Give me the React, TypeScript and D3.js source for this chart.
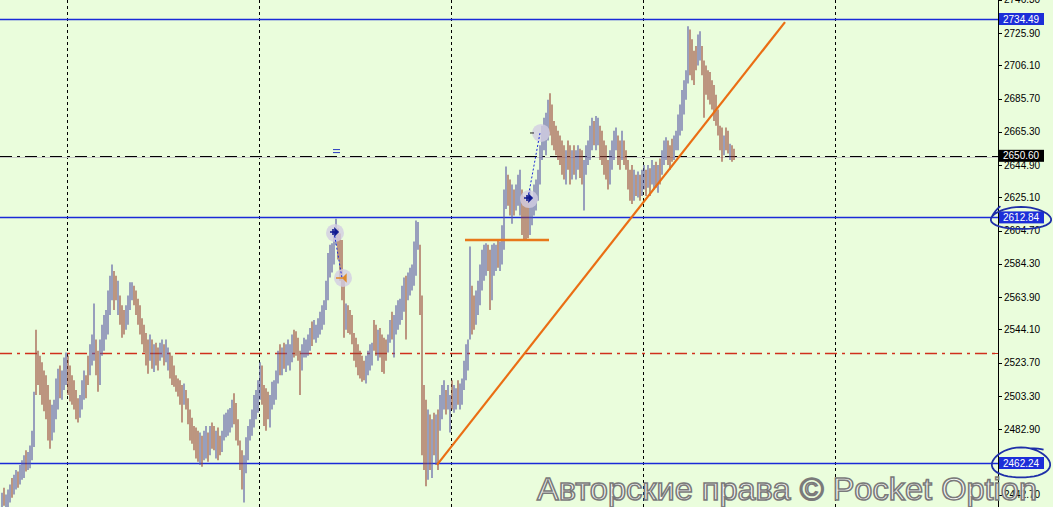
import React from 'react';
import * as d3 from 'd3';

// ---- data (XAUUSD-like bars) ----
const highs: number[] = [
  2444,2447,2443,2446,2449,2453,2455,2458,2457,2461,
  2464,2467,2470,2469,2473,2482,2506,2544,2531,2528,
  2524,2519,2516,2510,2501,2498,2501,2514,2520,2522,
  2519,2527,2530,2528,2522,2516,2513,2507,2502,2504,
  2513,2519,2516,2528,2535,2541,2560,2538,2531,2538,
  2547,2553,2556,2568,2577,2584,2580,2577,2574,2565,
  2559,2556,2559,2565,2573,2573,2571,2568,2563,2559,
  2551,2547,2542,2538,2541,2538,2535,2536,2533,2536,
  2538,2535,2538,2533,2530,2528,2522,2516,2514,2513,
  2510,2511,2507,2502,2495,2490,2485,2484,2482,2481,
  2479,2482,2485,2481,2485,2487,2485,2482,2484,2479,
  2482,2492,2493,2495,2496,2501,2505,2499,2489,2476,
  2470,2467,2478,2485,2489,2495,2504,2507,2513,2524,
  2522,2510,2508,2506,2504,2512,2513,2519,2531,2535,
  2533,2536,2535,2538,2535,2541,2544,2543,2539,2531,
  2535,2539,2538,2541,2545,2549,2550,2547,2551,2555,
  2559,2562,2574,2591,2596,2597,2602,2612,2606,2603,
  2599,2576,2560,2559,2556,2553,2542,2539,2535,2531,
  2528,2525,2528,2531,2535,2536,2550,2547,2544,2545,
  2541,2539,2538,2541,2550,2555,2553,2559,2562,2563,
  2571,2576,2577,2579,2582,2584,2598,2611,2610,2596,
  2565,2510,2501,2495,2492,2489,2493,2492,2495,2504,
  2510,2513,2507,2510,2504,2513,2510,2508,2513,2511,
  2514,2525,2535,2538,2595,2571,2565,2568,2574,2584,
  2593,2596,2597,2596,2593,2596,2597,2596,2599,2598,
  2608,2630,2644,2639,2636,2633,2630,2633,2639,2642,
  2630,2626,2623,2626,2630,2626,2633,2636,2642,2657,
  2669,2674,2677,2685,2689,2682,2672,2669,2666,2663,
  2660,2657,2654,2660,2657,2654,2657,2654,2657,2655,
  2654,2648,2657,2660,2669,2674,2672,2675,2674,2669,
  2666,2660,2657,2648,2654,2660,2666,2668,2663,2660,
  2666,2660,2654,2648,2642,2645,2642,2639,2641,2639,
  2642,2645,2642,2645,2643,2648,2645,2647,2645,2649,
  2654,2660,2662,2660,2657,2661,2663,2666,2676,2682,
  2691,2697,2703,2730,2728,2722,2715,2718,2725,2727,
  2718,2709,2706,2703,2702,2697,2694,2688,2679,2669,
  2668,2663,2668,2666,2658,2657,2655,
];
const lows: number[] = [
  2435,2436,2435,2435,2438,2441,2443,2446,2447,2449,
  2452,2453,2457,2458,2459,2464,2472,2504,2510,2504,
  2498,2494,2489,2476,2471,2476,2481,2489,2495,2502,
  2501,2507,2510,2504,2500,2498,2495,2489,2487,2490,
  2495,2501,2502,2510,2516,2522,2525,2516,2506,2510,
  2528,2531,2538,2541,2553,2562,2556,2562,2553,2547,
  2539,2541,2544,2547,2556,2562,2559,2553,2547,2541,
  2535,2530,2522,2517,2525,2520,2518,2522,2519,2525,
  2527,2522,2524,2519,2514,2510,2509,2506,2503,2498,
  2487,2498,2495,2486,2476,2474,2470,2465,2463,2461,
  2460,2464,2465,2463,2467,2471,2470,2465,2464,2467,
  2469,2476,2478,2479,2481,2484,2486,2476,2473,2458,
  2446,2438,2456,2464,2476,2479,2484,2489,2493,2501,
  2498,2485,2482,2489,2484,2495,2498,2501,2511,2516,
  2516,2520,2518,2522,2519,2524,2527,2528,2525,2504,
  2519,2527,2527,2528,2531,2534,2538,2536,2539,2541,
  2544,2547,2556,2562,2576,2579,2584,2596,2587,2574,
  2562,2539,2544,2542,2541,2535,2525,2521,2516,2514,
  2512,2513,2511,2516,2519,2522,2531,2528,2525,2527,
  2518,2517,2525,2530,2536,2538,2527,2541,2544,2547,
  2550,2555,2538,2562,2565,2568,2571,2577,2593,2553,
  2467,2458,2448,2452,2458,2453,2467,2461,2458,2482,
  2489,2495,2492,2495,2481,2495,2493,2495,2498,2495,
  2498,2507,2513,2519,2538,2541,2544,2547,2553,2559,
  2568,2574,2577,2580,2556,2562,2577,2580,2582,2580,
  2584,2593,2618,2620,2614,2609,2614,2617,2620,2614,
  2602,2599,2599,2600,2602,2608,2614,2617,2623,2633,
  2648,2654,2651,2660,2663,2657,2654,2651,2648,2645,
  2639,2636,2633,2642,2633,2636,2639,2636,2642,2637,
  2633,2617,2639,2645,2648,2654,2657,2654,2657,2648,
  2645,2639,2636,2630,2633,2642,2648,2654,2645,2642,
  2648,2645,2642,2630,2623,2621,2623,2626,2625,2623,
  2626,2630,2626,2631,2626,2633,2630,2631,2628,2633,
  2639,2645,2648,2645,2642,2647,2648,2654,2654,2663,
  2666,2676,2685,2695,2700,2697,2694,2703,2706,2709,
  2700,2674,2688,2685,2682,2679,2672,2669,2663,2654,
  2647,2651,2654,2652,2648,2647,2648,
];
// u = bullish bar, d = bearish bar
const directions: string[] = [
  'uduuuduudu','uuduuuuddd','ddddduuuud','uuuddddddu','uudduuuddu',
  'uuuuuuddud','dduuuudddd','ddddududdu','uduudddddd','dudddddddu',
  'duududdudd','uuuuuudddd','duuuuuuuuu','dddduuuuud','uduuuudddd',
  'uuuuuduuuu','uuuuuuuudd','dduddddddd','dduuuuddud','ddduuduuuu',
  'uuduuuuuud','dddudududu','uuduuduudu','uuuuudduuu','uuudduuudu',
  'uuudduduuu','dddduuuuuu','uuuudddddd','ddudduduud','duuuuuduud',
  'dddduuuudd','udddddudud','uududuudud','uuuddduuuu','uuuudddduu',
  'dddddddddd','duddudd',
];

const priceTicks: number[] = [
  2746.30, 2725.90, 2706.10, 2685.70, 2665.30, 2644.90, 2625.10, 2604.70,
  2584.30, 2563.90, 2544.10, 2523.70, 2503.30, 2482.90, 2442.70,
];
const gridBars: number[] = [33, 129, 225, 321, 417];
const blueLevels: number[] = [2734.49, 2612.84, 2462.24];
const bidLevel = 2650.60;
const redLevel = 2529.7;
const circledLevels: number[] = [2612.84, 2462.24];
// trendline (bar index, price) pairs
const trendBars: number[] = [218, 392];
const trendPrices: number[] = [2461.1, 2732.6];
const supportBars: number[] = [232, 274];
const supportPrice = 2599.0;
// trades: open bar, open price, close bar, close price
const tradeOpenBars: number[] = [166.5, 263.5];
const tradeOpenPrices: number[] = [2603.9, 2624.7];
const tradeCloseBars: number[] = [170.5, 269.5];
const tradeClosePrices: number[] = [2575.7, 2664.6];
const pendingMark = { bar: 167.5, price: 2653.5 };

const W = 1053;
const H = 507;
const BG = '#eafddc';
const UP = '#5c5aa6';
const DOWN = '#9a4a3c';
const NAVY = '#1a2ad8';

export default function App() {
  const dirs = directions.join('');
  const bars = highs.map((h, i) => ({ i, h, l: lows[i], up: dirs[i] === 'u' }));
  const y = d3.scaleLinear().domain([2462.24, 2734.49]).range([463, 19]);
  const x = d3.scaleLinear().domain([0, bars.length - 1]).range([1, 733]);
  const axisX = 998;
  const plotRight = axisX;

  const trend = d3.line<number>()
    .x((b) => x(b))
    .y((_, k) => y(trendPrices[k]))(trendBars) as string;

  const fmt = d3.format('.2f');

  const ellipse = (cx: number, cy: number, rx: number, ry: number, tail: 'left' | 'top') => {
    const p = d3.path();
    const n = 40;
    const start = tail === 'left' ? Math.PI * 1.05 : Math.PI * 1.6;
    for (let k = 0; k <= n + 4; k++) {
      const a = start + (k / n) * Math.PI * 2;
      const wob = 1 + 0.04 * Math.sin(a * 3);
      const px = cx + rx * wob * Math.cos(a);
      const py = cy + ry * wob * Math.sin(a) - (k > n ? (k - n) * 1.2 : 0);
      if (k === 0) p.moveTo(px, py);
      else p.lineTo(px, py);
    }
    return p.toString();
  };

  const crisp = (v: number) => Math.round(v) + 0.5;

  return (
    <svg
      width={W}
      height={H}
      style={{ position: 'absolute', left: 0, top: 0, display: 'block' }}
      fontFamily="'Liberation Sans', Arial, sans-serif"
    >
      <rect x={0} y={0} width={W} height={H} fill={BG} />

      {/* vertical grid */}
      {gridBars.map((g) => (
        <line key={g} x1={crisp(x(g))} x2={crisp(x(g))} y1={0} y2={H}
          stroke="#000" strokeWidth={1} strokeDasharray="3,3" />
      ))}

      {/* horizontal levels */}
      <line x1={0} x2={plotRight} y1={crisp(y(redLevel))} y2={crisp(y(redLevel))}
        stroke="#d0301c" strokeWidth={1.4} strokeDasharray="12,5,3,5" />
      <line x1={0} x2={plotRight} y1={crisp(y(bidLevel)) + 1} y2={crisp(y(bidLevel)) + 1}
        stroke="#c8c8c8" strokeWidth={1} />
      <line x1={0} x2={plotRight} y1={crisp(y(bidLevel))} y2={crisp(y(bidLevel))}
        stroke="#000" strokeWidth={1} strokeDasharray="12,5,3,5" />
      {blueLevels.map((lv) => (
        <line key={lv} x1={0} x2={plotRight} y1={crisp(y(lv))} y2={crisp(y(lv))}
          stroke={NAVY} strokeWidth={1.6} />
      ))}

      {/* bars */}
      {bars.map((b) => (
        <line key={b.i} x1={Math.round(x(b.i)) + 1} x2={Math.round(x(b.i)) + 1}
          y1={y(b.h)} y2={y(b.l)} stroke={b.up ? UP : DOWN} strokeWidth={1.15} />
      ))}

      {/* support segment and trendline */}
      <line x1={x(supportBars[0])} x2={x(supportBars[1])} y1={y(supportPrice)} y2={y(supportPrice)}
        stroke="#e8781a" strokeWidth={2.6} />
      <path d={trend} stroke="#ea6e14" strokeWidth={2.2} fill="none" />

      {/* trade markers */}
      {tradeOpenBars.map((ob, k) => {
        const ox = x(ob), oy = y(tradeOpenPrices[k]);
        const cx = x(tradeCloseBars[k]), cy = y(tradeClosePrices[k]);
        return (
          <g key={k}>
            <circle cx={ox + 1} cy={oy + 1} r={9} fill="#d2cde2" opacity={0.8} />
            <circle cx={cx + 1} cy={cy} r={9} fill="#d2cde2" opacity={0.8} />
            <line x1={ox} y1={oy} x2={cx} y2={cy} stroke={NAVY} strokeWidth={1} strokeDasharray="2,2" />
            <path d={`M${ox - 4},${oy} L${ox + 1},${oy} M${ox + 1},${oy - 3} L${ox + 4},${oy} L${ox + 1},${oy + 3} Z M${ox - 1},${oy - 3} L${ox - 1},${oy + 3}`}
              stroke="#101a90" strokeWidth={1.6} fill="#101a90" />
            {k === 0 ? (
              <path d={`M${cx - 6},${cy} L${cx + 1},${cy} M${cx + 4},${cy - 3} L${cx + 1},${cy} L${cx + 4},${cy + 3} Z`}
                stroke="#e08a2a" strokeWidth={1.4} fill="#e08a2a" />
            ) : (
              <line x1={cx - 10} x2={cx - 6} y1={cy} y2={cy} stroke="#222" strokeWidth={1} />
            )}
          </g>
        );
      })}
      <g stroke="#2a3cc0" strokeWidth={1}>
        <line x1={x(pendingMark.bar) - 3} x2={x(pendingMark.bar) + 4} y1={y(pendingMark.price) - 1.5} y2={y(pendingMark.price) - 1.5} />
        <line x1={x(pendingMark.bar) - 3} x2={x(pendingMark.bar) + 4} y1={y(pendingMark.price) + 1.5} y2={y(pendingMark.price) + 1.5} />
      </g>

      {/* right price axis */}
      <line x1={axisX + 0.5} x2={axisX + 0.5} y1={0} y2={H} stroke="#000" strokeWidth={1} />
      {priceTicks.map((t) => (
        <g key={t}>
          <line x1={axisX} x2={axisX + 4} y1={crisp(y(t))} y2={crisp(y(t))} stroke="#000" />
          <text x={axisX + 6} y={y(t)} dy="0.35em" fontSize={10} fill="#000">{fmt(t)}</text>
        </g>
      ))}
      <line x1={axisX - 3} x2={axisX} y1={crisp(y(redLevel))} y2={crisp(y(redLevel))} stroke="#d0301c" />
      <line x1={axisX - 3} x2={axisX} y1={crisp(y(bidLevel))} y2={crisp(y(bidLevel))} stroke="#000" />

      {blueLevels.map((lv) => (
        <g key={'lab' + lv}>
          <rect x={axisX + 1} y={y(lv) - 6} width={45} height={12} fill="#1c2ed8" />
          <text x={axisX + 5} y={y(lv)} dy="0.35em" fontSize={10} fill="#fff">{fmt(lv)}</text>
        </g>
      ))}
      <rect x={axisX + 1} y={y(bidLevel) - 6} width={45} height={12} fill="#000" />
      <text x={axisX + 5} y={y(bidLevel)} dy="0.35em" fontSize={10} fill="#fff">{fmt(bidLevel)}</text>

      {/* hand-drawn circles */}
      {circledLevels.map((lv, k) => (
        <path key={'c' + lv}
          d={ellipse(axisX + 23, y(lv) + (k === 0 ? 1 : 0), k === 0 ? 30 : 29, k === 0 ? 11 : 15, k === 0 ? 'left' : 'top')}
          stroke="#1f2fa8" strokeWidth={1.8} fill="none" />
      ))}

      {/* watermark */}
      <text x={537} y={500} fontSize={31} textLength={500} lengthAdjust="spacingAndGlyphs"
        fill="#f9f9f9" fillOpacity={0.9} stroke="#7a7a7a" strokeWidth={1.5}
        fontFamily="'Liberation Sans', Arial, sans-serif">
        Авторские права © Pocket Option
      </text>
    </svg>
  );
}
